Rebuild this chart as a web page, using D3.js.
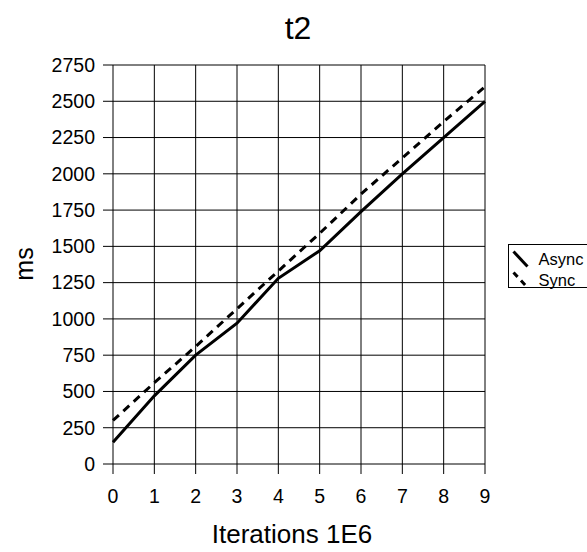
<!DOCTYPE html>
<html>
<head>
<meta charset="utf-8">
<script src="https://cdn.jsdelivr.net/npm/d3@7"></script>
<style>
  body { margin: 0; background: #fff; }
  svg { display: block; font-family: "Liberation Sans", Arial, sans-serif; }
</style>
</head>
<body>
<div id="chart"></div>
<script>
const ITERATIONS = [0, 1, 2, 3, 4, 5, 6, 7, 8, 9];
const ASYNC = [150, 470, 750, 970, 1280, 1470, 1740, 2000, 2250, 2500];
const SYNC = [300, 560, 810, 1070, 1330, 1590, 1860, 2110, 2360, 2600];
const Y_TICKS = [0, 250, 500, 750, 1000, 1250, 1500, 1750, 2000, 2250, 2500, 2750];
const SERIES = [
  { name: "Async", values: ASYNC, dash: null },
  { name: "Sync", values: SYNC, dash: "8,6" },
];

const width = 587;
const height = 552;
const margin = { top: 65, right: 102, bottom: 88, left: 113 };

const svg = d3.select("#chart")
  .append("svg")
  .attr("width", width)
  .attr("height", height);

const x = d3.scaleLinear()
  .domain([0, 9])
  .range([margin.left, width - margin.right]);

const y = d3.scaleLinear()
  .domain([0, 2750])
  .range([height - margin.bottom, margin.top]);

// grid, with the ticks sticking out left and below
const grid = svg.append("g").attr("stroke", "#000").attr("stroke-width", 1);
grid.selectAll(".h")
  .data(Y_TICKS)
  .join("line")
  .attr("x1", x(0) - 10)
  .attr("x2", x(9))
  .attr("y1", (d) => y(d))
  .attr("y2", (d) => y(d));
grid.selectAll(".v")
  .data(ITERATIONS)
  .join("line")
  .attr("x1", (d) => x(d))
  .attr("x2", (d) => x(d))
  .attr("y1", y(2750))
  .attr("y2", y(0) + 10);

// tick labels
svg.append("g")
  .attr("font-size", 19.5)
  .attr("text-anchor", "end")
  .selectAll("text")
  .data(Y_TICKS)
  .join("text")
  .attr("x", x(0) - 18)
  .attr("y", (d) => y(d))
  .attr("dy", "0.35em")
  .text((d) => d);

svg.append("g")
  .attr("font-size", 19.5)
  .attr("text-anchor", "middle")
  .selectAll("text")
  .data(ITERATIONS)
  .join("text")
  .attr("x", (d) => x(d))
  .attr("y", y(0) + 39)
  .text((d) => d);

// lines
const line = d3.line()
  .x((d, i) => x(ITERATIONS[i]))
  .y((d) => y(d));

svg.append("g")
  .selectAll("path")
  .data(SERIES)
  .join("path")
  .attr("fill", "none")
  .attr("stroke", "#000")
  .attr("stroke-width", 3)
  .attr("stroke-dasharray", (d) => d.dash)
  .attr("d", (d) => line(d.values));

// titles
svg.append("text")
  .attr("x", 298)
  .attr("y", 39)
  .attr("text-anchor", "middle")
  .attr("font-size", 32)
  .text("t2");

svg.append("text")
  .attr("x", 292)
  .attr("y", 543)
  .attr("text-anchor", "middle")
  .attr("font-size", 26)
  .text("Iterations 1E6");

svg.append("text")
  .attr("transform", "translate(33,264) rotate(-90)")
  .attr("text-anchor", "middle")
  .attr("font-size", 25)
  .text("ms");

// legend
const legend = svg.append("g").attr("transform", "translate(508.5,244.5)");
legend.append("rect")
  .attr("width", 80)
  .attr("height", 43)
  .attr("fill", "#fff")
  .attr("stroke", "#000");

const item = legend.selectAll("g")
  .data(SERIES)
  .join("g")
  .attr("transform", (d, i) => `translate(0,${i * 21})`);

item.append("line")
  .attr("x1", 5)
  .attr("y1", 7)
  .attr("x2", 19)
  .attr("y2", 22)
  .attr("stroke", "#000")
  .attr("stroke-width", 3)
  .attr("stroke-dasharray", (d) => (d.dash ? "6,5" : null));

item.append("text")
  .attr("x", 30)
  .attr("y", 15)
  .attr("dy", "0.35em")
  .attr("font-size", 16.5)
  .text((d) => d.name);
</script>
</body>
</html>
